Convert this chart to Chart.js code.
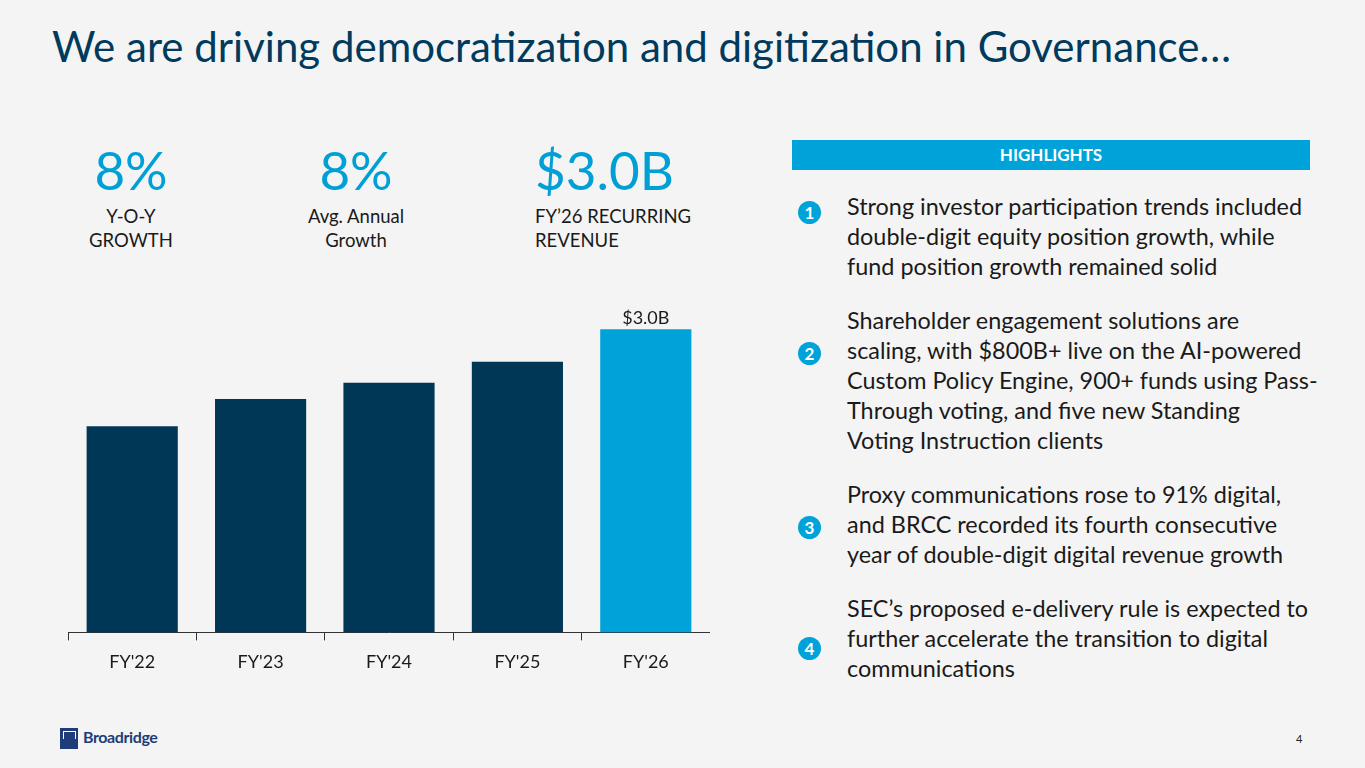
<!DOCTYPE html>
<html>
<head>
<meta charset="utf-8">
<script src="https://cdn.jsdelivr.net/npm/chart.js@4.4.1/dist/chart.umd.min.js"></script>
<style>
  body { margin: 0; background: #f4f4f4; font-family: Lato, "Open Sans", sans-serif; }
  #page { position: relative; width: 1365px; height: 768px; overflow: hidden; background: #f4f4f4; }
  .title { position: absolute; left: 52px; top: 21px; font-size: 42px; color: #003a5c; white-space: nowrap; }
  .kpi { position: absolute; color: #1a1a1a; font-size: 18.5px; line-height: 24px; }
  .kpi .big { font-size: 53px; line-height: 56px; color: #00a0d6; margin-bottom: 6px; }
  .hl-head { position: absolute; left: 792px; top: 140px; width: 518px; height: 30px; background: #00a3d9;
             color: #fff; font-weight: bold; font-size: 17px; line-height: 30px; text-align: center; }
  .item { position: absolute; left: 847px; width: 500px; font-size: 23.4px; line-height: 30px; color: #1a1a1a; white-space: nowrap; }
  .num { position: absolute; left: 798px; width: 23px; height: 23px; border-radius: 50%; background: #00a3d9;
         color: #fff; font-weight: bold; font-size: 17px; line-height: 23px; text-align: center; }
  #chartBox { position: absolute; left: 68px; top: 299px; width: 642px; height: 385px; }
  .logo { position: absolute; left: 60px; top: 728px; height: 20px; }
  .logo .icon { position: absolute; left: 0; top: 0; width: 18px; height: 21px; background: #1f3c78; }
  .logo .icon:after { content: ""; position: absolute; left: 3px; top: 3px; width: 11px; height: 7px; border: 1px solid #fff; border-bottom: none; }
  .logo .txt { position: absolute; left: 23px; top: -1px; font-weight: bold; font-size: 16px; color: #1f3c78; letter-spacing: -0.4px; }
  .pageno { position: absolute; left: 1296px; top: 732px; font-size: 11px; color: #222; }
</style>
</head>
<body>
<div id="page">
  <div class="title">We are driving democratization and digitization in Governance…</div>

  <div class="kpi" style="left:71px; top:142px; width:120px; text-align:center;"><div class="big">8%</div>Y-O-Y<br>GROWTH</div>
  <div class="kpi" style="left:296px; top:142px; width:120px; text-align:center;"><div class="big">8%</div>Avg. Annual<br>Growth</div>
  <div class="kpi" style="left:535px; top:142px; width:200px;"><div class="big">$3.0B</div>FY’26 RECURRING<br>REVENUE</div>

  <div id="chartBox"><canvas id="bar-chart"></canvas></div>

  <div class="hl-head">HIGHLIGHTS</div>
  <div class="num" style="top:201px;">1</div>
  <div class="item" style="top:191px;">Strong investor participation trends included<br>double-digit equity position growth, while<br>fund position growth remained solid</div>
  <div class="num" style="top:342px;">2</div>
  <div class="item" style="top:305px;">Shareholder engagement solutions are<br>scaling, with $800B+ live on the AI-powered<br>Custom Policy Engine, 900+ funds using Pass-<br>Through voting, and five new Standing<br>Voting Instruction clients</div>
  <div class="num" style="top:516px;">3</div>
  <div class="item" style="top:479px;">Proxy communications rose to 91% digital,<br>and BRCC recorded its fourth consecutive<br>year of double-digit digital revenue growth</div>
  <div class="num" style="top:637px;">4</div>
  <div class="item" style="top:593px;">SEC’s proposed e-delivery rule is expected to<br>further accelerate the transition to digital<br>communications</div>

  <div class="logo"><div class="icon"></div><div class="txt">Broadridge</div></div>
  <div class="pageno">4</div>
</div>

<script>
var years = ["FY'22", "FY'23", "FY'24", "FY'25", "FY'26"];
var revenue = [2.04, 2.31, 2.47, 2.68, 3.0];
var barColors = ["#003757", "#003757", "#003757", "#003757", "#00a3d9"];
var lastLabel = "$3.0B";

var topLabel = {
  id: 'topLabel',
  afterDatasetsDraw: function(chart) {
    var meta = chart.getDatasetMeta(0);
    var bar = meta.data[meta.data.length - 1];
    var ctx = chart.ctx;
    ctx.save();
    ctx.fillStyle = "#1a1a1a";
    ctx.font = "18px Lato";
    ctx.textAlign = "center";
    ctx.textBaseline = "bottom";
    ctx.fillText(lastLabel, bar.x, bar.y - 2);
    ctx.restore();
  }
};

new Chart(document.getElementById("bar-chart"), {
  type: 'bar',
  data: {
    labels: years,
    datasets: [{
      data: revenue,
      backgroundColor: barColors,
      categoryPercentage: 1.0,
      barPercentage: 0.71
    }]
  },
  options: {
    responsive: true,
    maintainAspectRatio: false,
    animation: false,
    layout: { padding: 0 },
    plugins: { legend: { display: false }, tooltip: { enabled: false } },
    scales: {
      x: {
        grid: { display: true, drawOnChartArea: false, drawTicks: true, tickLength: 8, offset: true, color: "#333" },
        border: { display: true, color: "#333", width: 1 },
        ticks: { color: "#1a1a1a", font: { family: "Lato", size: 18 }, padding: 11 }
      },
      y: { display: false, min: 0, max: 3.3 }
    }
  },
  plugins: [topLabel]
});
</script>
</body>
</html>
